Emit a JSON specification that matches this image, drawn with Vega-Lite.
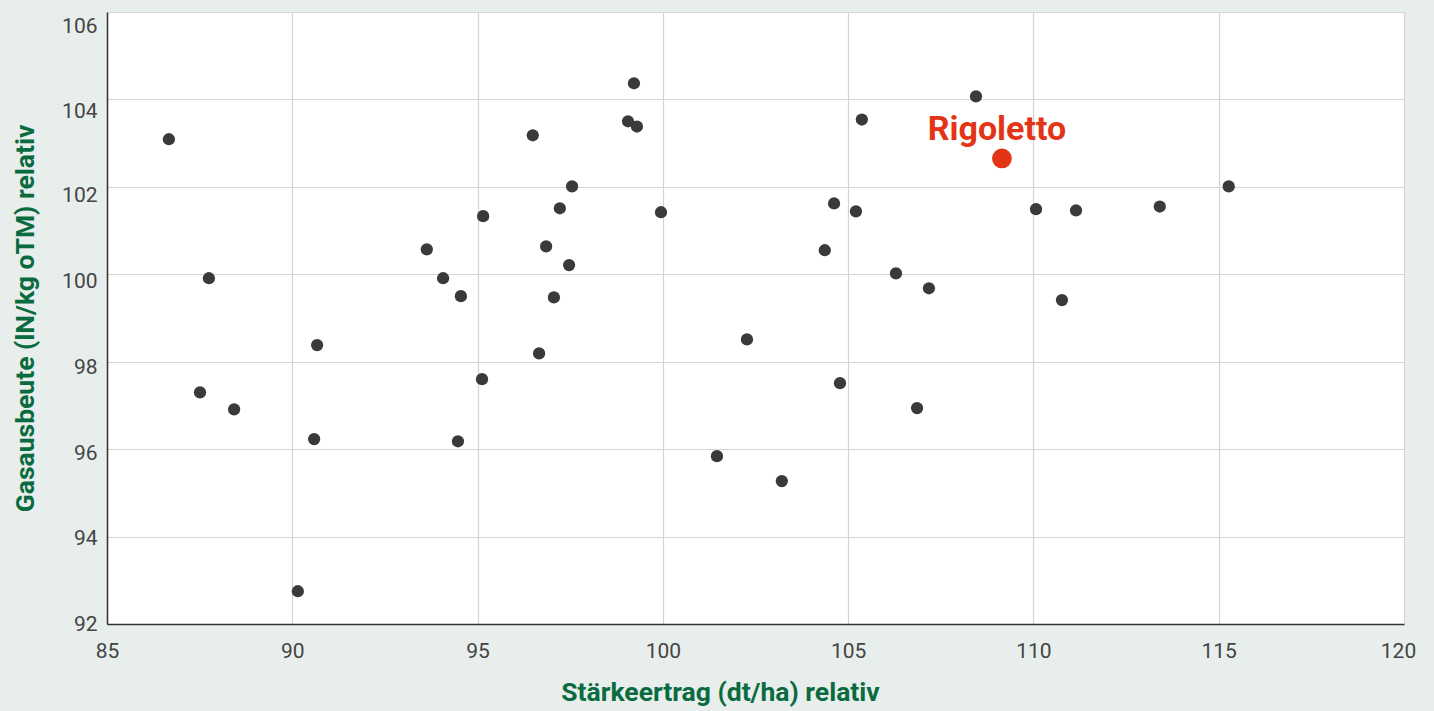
{
  "$schema": "https://vega.github.io/schema/vega-lite/v6.json",
  "autosize": {"type": "none"},
  "width": 1297,
  "height": 612,
  "padding": {"left": 107, "top": 12, "right": 30, "bottom": 87},
  "background": "#e8eeec",
  "config": {
    "view": {"fill": "#ffffff", "stroke": null},
    "font": "Roboto",
    "axis": {
      "labelFont": "Roboto",
      "labelFontSize": 21,
      "labelColor": "#444444",
      "titleFont": "Roboto",
      "titleFontSize": 26.5,
      "titleFontWeight": "bold",
      "titleColor": "#0b6b40",
      "gridColor": "#d4d4d4",
      "gridWidth": 1.2,
      "domainColor": "#333333",
      "domainWidth": 1.5,
      "ticks": false,
      "labelFlush": false
    }
  },
  "data": {"values": [
    {"x": 86.67, "y": 103.09, "sorte": ""},
    {"x": 87.75, "y": 99.91, "sorte": ""},
    {"x": 87.51, "y": 97.30, "sorte": ""},
    {"x": 88.43, "y": 96.91, "sorte": ""},
    {"x": 90.15, "y": 92.75, "sorte": ""},
    {"x": 90.67, "y": 98.38, "sorte": ""},
    {"x": 90.59, "y": 96.23, "sorte": ""},
    {"x": 93.63, "y": 100.57, "sorte": ""},
    {"x": 94.07, "y": 99.91, "sorte": ""},
    {"x": 94.55, "y": 99.50, "sorte": ""},
    {"x": 94.47, "y": 96.18, "sorte": ""},
    {"x": 95.15, "y": 101.33, "sorte": ""},
    {"x": 95.12, "y": 97.60, "sorte": ""},
    {"x": 96.49, "y": 103.18, "sorte": ""},
    {"x": 96.85, "y": 100.64, "sorte": ""},
    {"x": 97.06, "y": 99.47, "sorte": ""},
    {"x": 96.66, "y": 98.19, "sorte": ""},
    {"x": 97.22, "y": 101.51, "sorte": ""},
    {"x": 97.55, "y": 102.01, "sorte": ""},
    {"x": 97.47, "y": 100.21, "sorte": ""},
    {"x": 99.06, "y": 103.50, "sorte": ""},
    {"x": 99.22, "y": 104.37, "sorte": ""},
    {"x": 99.30, "y": 103.38, "sorte": ""},
    {"x": 99.95, "y": 101.42, "sorte": ""},
    {"x": 101.46, "y": 95.84, "sorte": ""},
    {"x": 102.27, "y": 98.51, "sorte": ""},
    {"x": 103.21, "y": 95.27, "sorte": ""},
    {"x": 104.37, "y": 100.55, "sorte": ""},
    {"x": 104.62, "y": 101.62, "sorte": ""},
    {"x": 104.78, "y": 97.51, "sorte": ""},
    {"x": 105.21, "y": 101.44, "sorte": ""},
    {"x": 105.37, "y": 103.54, "sorte": ""},
    {"x": 106.29, "y": 100.02, "sorte": ""},
    {"x": 107.18, "y": 99.68, "sorte": ""},
    {"x": 106.86, "y": 96.94, "sorte": ""},
    {"x": 108.45, "y": 104.07, "sorte": ""},
    {"x": 110.07, "y": 101.49, "sorte": ""},
    {"x": 110.77, "y": 99.41, "sorte": ""},
    {"x": 111.15, "y": 101.46, "sorte": ""},
    {"x": 113.41, "y": 101.55, "sorte": ""},
    {"x": 115.27, "y": 102.01, "sorte": ""},
    {"x": 109.15, "y": 102.65, "sorte": "Rigoletto"}
  ]},
  "encoding": {
    "x": {
      "field": "x", "type": "quantitative",
      "scale": {"domain": [85, 120], "nice": false, "zero": false},
      "axis": {
        "values": [85, 90, 95, 100, 105, 110, 115, 120],
        "title": "Stärkeertrag (dt/ha) relativ",
        "labelPadding": 16, "titlePadding": 18, "titleX": 613,
        "labelOffset": {"condition": {"test": "datum.value == 120", "value": -6}, "value": 0}
      }
    },
    "y": {
      "field": "y", "type": "quantitative",
      "scale": {"domain": [92, 106], "nice": false, "zero": false},
      "axis": {
        "values": [92, 94, 96, 98, 100, 102, 104, 106],
        "title": "Gasausbeute (lN/kg oTM) relativ",
        "labelPadding": 10, "titlePadding": 22,
        "labelOffset": {"condition": [
          {"test": "datum.value == 106", "value": 14},
          {"test": "datum.value == 104", "value": 12},
          {"test": "datum.value == 102", "value": 9},
          {"test": "datum.value == 100", "value": 7},
          {"test": "datum.value == 98", "value": 6},
          {"test": "datum.value == 96", "value": 4},
          {"test": "datum.value == 94", "value": 2}
        ], "value": 0}
      }
    }
  },
  "layer": [
    {
      "transform": [{"filter": "datum.sorte === ''"}],
      "mark": {"type": "circle", "size": 150, "opacity": 1, "color": "#3a3a3a"}
    },
    {
      "transform": [{"filter": "datum.sorte === 'Rigoletto'"}],
      "mark": {"type": "circle", "size": 390, "opacity": 1, "color": "#e33516"}
    },
    {
      "transform": [{"filter": "datum.sorte === 'Rigoletto'"}],
      "mark": {"type": "text", "fontSize": 34, "fontWeight": "bold", "color": "#e33516", "dy": -28, "dx": -5, "font": "Roboto"},
      "encoding": {"text": {"field": "sorte"}}
    }
  ]
}
